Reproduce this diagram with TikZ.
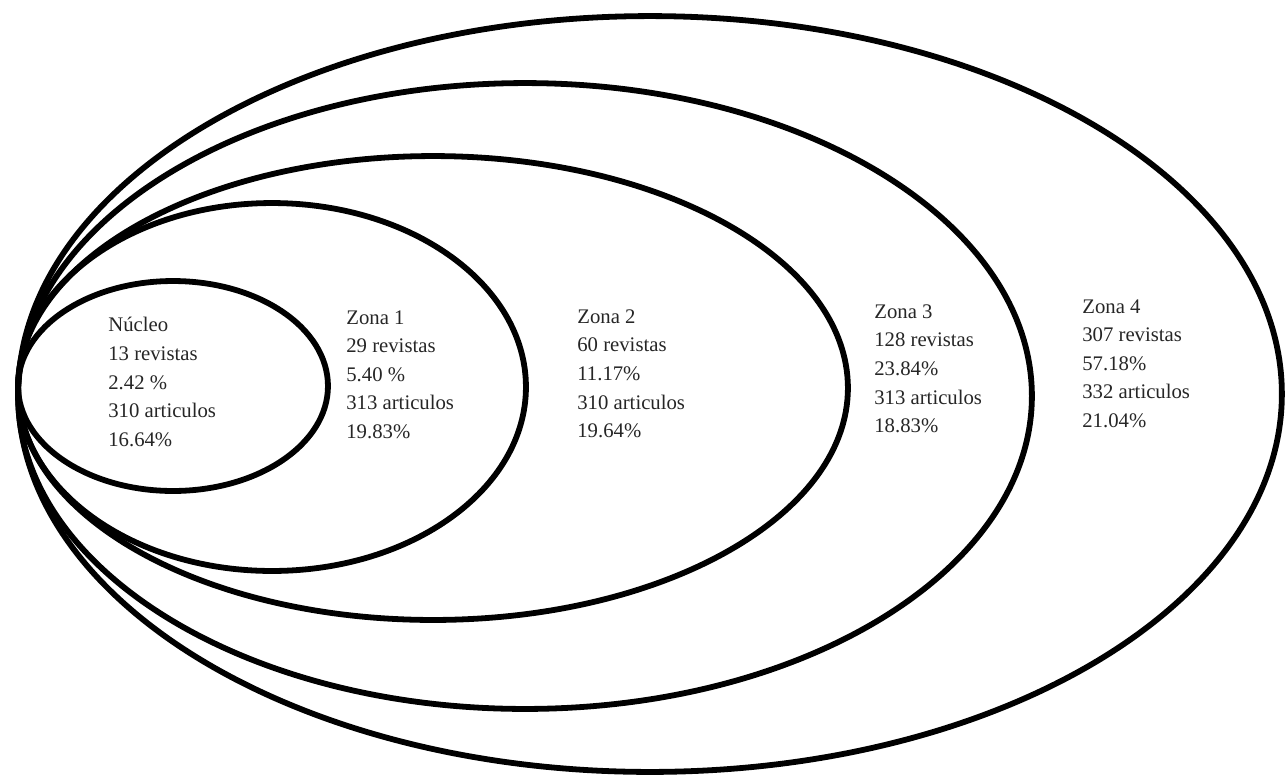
\documentclass[tikz,border=0pt]{standalone}
\usepackage{fontspec}
\setmainfont{Liberation Serif}
\usepackage{xcolor}
\usepackage{tikz}
\usetikzlibrary{positioning}

\begin{document}
\begin{tikzpicture}[
    x=0.02cm,y=-0.02cm,
    zone/.style={draw=black,line width=3.3pt},
    zonetext/.style={anchor=north west,inner sep=0pt,align=left,text=black!85,
      font=\fontsize{11.8}{16.3}\selectfont}
  ]
    \useasboundingbox (0,0) rectangle (1286,779);

    % Nested zones, all touching on the left.
    \draw[zone] (650,394) ellipse [x radius=12.64cm,y radius=7.56cm];
    \draw[zone] (525,396) ellipse [x radius=10.14cm,y radius=6.26cm];
    \draw[zone] (433,388) ellipse [x radius=8.30cm,y radius=4.64cm];
    \draw[zone] (272,387) ellipse [x radius=5.08cm,y radius=3.68cm];
    \draw[zone] (173,386) ellipse [x radius=3.10cm,y radius=2.10cm];

    % Zone labels.
    \node[zonetext] (nucleo) at (108,317) {Núcleo\\13 revistas\\2.42 \%\\310 articulos\\16.64\%};
    \node[zonetext] (zona1) at (346,310) {Zona 1\\29 revistas\\5.40 \%\\313 articulos\\19.83\%};
    \node[zonetext] (zona2) at (577,309) {Zona 2\\60 revistas\\11.17\%\\310 articulos\\19.64\%};
    \node[zonetext] (zona3) at (874,304) {Zona 3\\128 revistas\\23.84\%\\313 articulos\\18.83\%};
    \node[zonetext] (zona4) at (1082,299) {Zona 4\\307 revistas\\57.18\%\\332 articulos\\21.04\%};
  \end{tikzpicture}
\end{document}
